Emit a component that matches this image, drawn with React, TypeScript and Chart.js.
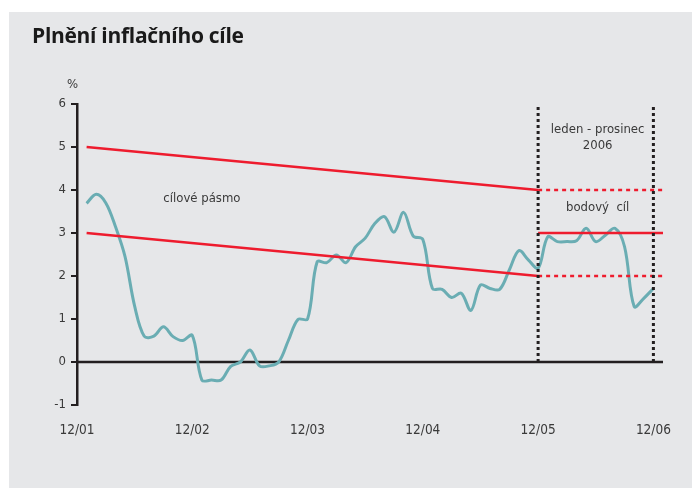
import React, { useEffect, useRef } from "react";
import { Chart, registerables } from "chart.js";

Chart.register(...registerables);

// ---- data ----
const xTickMonths = [0, 12, 24, 36, 48, 60];
const xTickLabels = ["12/01", "12/02", "12/03", "12/04", "12/05", "12/06"];
const yMin = -1;
const yMax = 6;

// CPI y/y, Jan 2002 .. Dec 2006 (month index 1..60)
const inflation2002 = [3.69, 3.9, 3.7, 3.15, 2.45, 1.3, 0.6, 0.6, 0.82, 0.59, 0.5, 0.62];
const inflation2003 = [-0.42, -0.42, -0.42, -0.1, 0.0, 0.28, -0.09, -0.09, 0.0, 0.5, 0.99, 1.0];
const inflation2004 = [2.33, 2.31, 2.49, 2.31, 2.68, 2.88, 3.22, 3.38, 3.02, 3.48, 2.93, 2.85];
const inflation2005 = [1.71, 1.69, 1.5, 1.6, 1.2, 1.79, 1.71, 1.69, 2.14, 2.59, 2.37, 2.18];
const inflation2006 = [2.91, 2.8, 2.8, 2.82, 3.11, 2.8, 2.95, 3.11, 2.68, 1.29, 1.48, 1.71];
const inflation = [...inflation2002, ...inflation2003, ...inflation2004, ...inflation2005, ...inflation2006];
const firstDataMonth = 1;

// target band 2002-2005 (linear decline)
const bandMonths = [1, 48];
const bandUpper = [5, 4];
const bandLower = [3, 2];
// 2006 point target with tolerance band
const target2006Months = [48, 61];
const target2006 = 3;
const tolerance2006 = [2, 4];
const verticalMarkers = [48, 60];
const axisMonths = [0, 61];

const TEXT_FONT = '"Liberation Sans Narrow", "Arial Narrow", "DejaVu Sans Condensed", "Liberation Sans", sans-serif';
const TEAL = "#6aadb3";
const RED = "#ee1c2e";
const BLACK = "#231f20";
const TEXT = "#3a3a3a";
const BG = "#e6e7e9";

const annotations = [
  { text: "cílové pásmo", x: 13.0, y: 3.79 },
  { text: "leden - prosinec", x: 54.2, y: 5.4 },
  { text: "2006", x: 54.2, y: 5.04 },
  { text: "bodový  cíl", x: 54.2, y: 3.59 },
  { text: "%", x: -0.45, y: 6.44 },
];

const textPlugin = {
  id: "texts",
  afterDatasetsDraw(chart: any) {
    const { ctx, scales } = chart;
    ctx.save();
    ctx.fillStyle = TEXT;
    ctx.font = `13px ${TEXT_FONT}`;
    ctx.textAlign = "center";
    ctx.textBaseline = "middle";
    annotations.forEach((a) => {
      ctx.fillText(a.text, scales.x.getPixelForValue(a.x), scales.y.getPixelForValue(a.y));
    });
    ctx.restore();
  },
};

export default function App() {
  const ref = useRef<HTMLCanvasElement>(null);
  useEffect(() => {
    if (!ref.current) return;
    const line = (data: any[], color: string, width: number, dash: number[] = []) => ({
      data,
      borderColor: color,
      borderWidth: width,
      borderDash: dash,
      pointRadius: 0,
      fill: false,
      tension: 0,
    });
    const chart = new Chart(ref.current, {
      type: "line",
      data: {
        datasets: [
          ...verticalMarkers.map((m) => line([{ x: m, y: 0 }, { x: m, y: yMax }], BLACK, 3, [3, 3])),
          line(bandMonths.map((m, i) => ({ x: m, y: bandUpper[i] })), RED, 2.5),
          line(bandMonths.map((m, i) => ({ x: m, y: bandLower[i] })), RED, 2.5),
          line(target2006Months.map((m) => ({ x: m, y: target2006 })), RED, 2.5),
          ...tolerance2006.map((t) => line(target2006Months.map((m) => ({ x: m, y: t })), RED, 2.5, [4, 4])),
          {
            ...line(inflation.map((v, i) => ({ x: firstDataMonth + i, y: v })), TEAL, 3),
            tension: 0.35,
          },
          line(axisMonths.map((m) => ({ x: m, y: 0 })), BLACK, 2.5),
        ] as any,
      },
      options: {
        animation: false,
        responsive: false,
        devicePixelRatio: 1,
        layout: { padding: { left: 28, top: 92, right: 37, bottom: 43 } },
        plugins: { legend: { display: false }, tooltip: { enabled: false }, title: { display: false } },
        scales: {
          x: {
            type: "linear",
            min: axisMonths[0],
            max: axisMonths[1],
            afterFit: (s: any) => { s.height = 40; },
            afterBuildTicks: (s: any) => { s.ticks = xTickMonths.map((v) => ({ value: v })); },
            grid: { display: false, drawTicks: false },
            border: { display: false },
            ticks: {
              autoSkip: false,
              maxRotation: 0,
              padding: 17,
              color: TEXT,
              font: { family: TEXT_FONT, size: 13.5 },
              callback: (v: any) => {
                const i = xTickMonths.indexOf(Number(v));
                return i >= 0 ? xTickLabels[i] : "";
              },
            },
          },
          y: {
            min: yMin,
            max: yMax,
            afterFit: (s: any) => { s.width = 40; },
            grid: { drawOnChartArea: false, drawTicks: true, tickLength: 6, color: BLACK, lineWidth: 2 },
            border: { display: true, color: BLACK, width: 2.5 },
            ticks: { stepSize: 1, padding: 5, color: TEXT, font: { family: TEXT_FONT, size: 13 } },
          },
        },
      } as any,
      plugins: [textPlugin],
    });
    return () => chart.destroy();
  }, []);

  return (
    <div style={{ position: "relative", marginTop: 4, marginLeft: 1, width: 691, height: 476, background: BG }}>
      <div
        style={{
          position: "absolute",
          left: 23,
          top: 11,
          fontFamily: '"Open Sans", "Liberation Sans", sans-serif',
          fontWeight: 700,
          fontSize: 21,
          lineHeight: "24px",
          color: "#1a1a1a",
          letterSpacing: -0.3,
          whiteSpace: "nowrap",
        }}
      >
        Plnění inflačního cíle
      </div>
      <canvas ref={ref} width={691} height={476} style={{ display: "block" }} />
    </div>
  );
}
